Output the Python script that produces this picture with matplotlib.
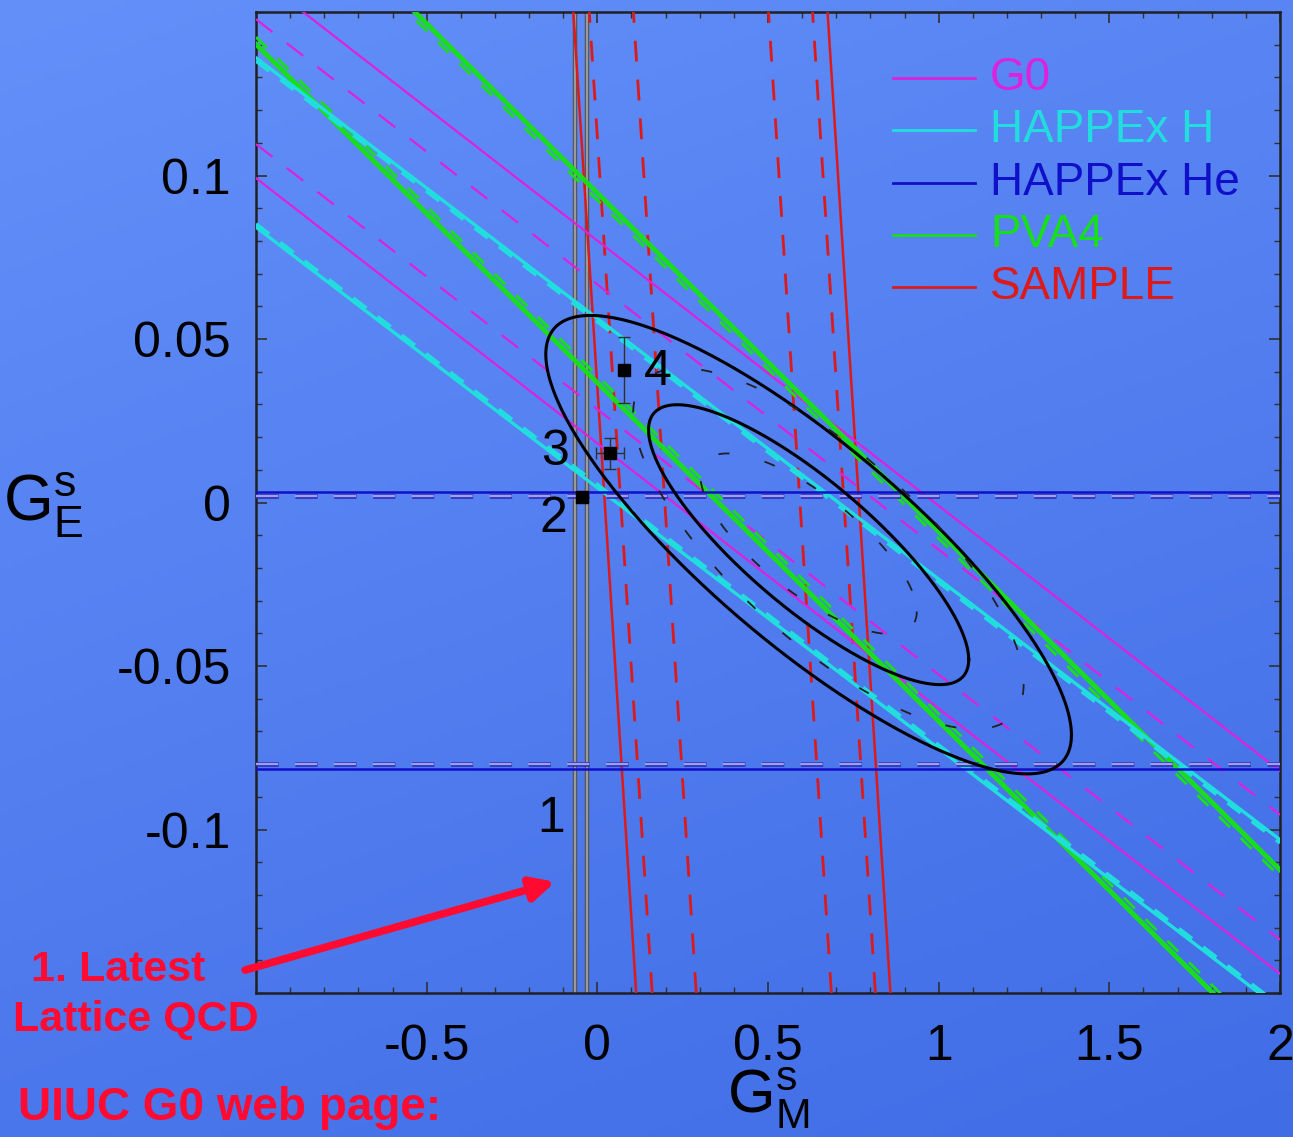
import numpy as np
import matplotlib
matplotlib.use("Agg")
import matplotlib.pyplot as plt

plt.rcParams['font.family'] = ['Liberation Sans', 'DejaVu Sans']
plt.rcParams['mathtext.fontset'] = 'custom'
plt.rcParams['mathtext.rm'] = 'Liberation Sans'
plt.rcParams['mathtext.it'] = 'Liberation Sans'
plt.rcParams['lines.scale_dashes'] = False

# ---------------- data ----------------
# bands of the form GE = b + m*GM
g0_slope = -0.0811
g0_solid = [0.0801, 0.0181]
g0_dashed = [0.0667, 0.0285]

hh_slope = -0.0797
hh_solid = [0.0563, 0.0045]
hh_dashed = [0.0553, 0.0055]

pva4_slope = -0.1035
pva4_solid = [0.0951, 0.0362]
pva4_solid2 = [0.0941, 0.0372]
pva4_dashed = [0.0925, 0.0388]

# HAPPEx He: GE = const
hhe_solid = [0.0031, -0.0816]
hhe_dashed = [0.0021, -0.0801]

# SAMPLE: GM = x0 + k*GE
sample_k = -0.614
sample_solid = [0.0217, 0.7666]
sample_dashed = [0.0686, 0.1977, 0.5936, 0.7226]

# Lattice QCD (1): GM band
lattice_gm = [-0.065, -0.029]

# global fit ellipses: center, half-width in GM, half-height in GE, correlation
ell_solid_cx = [0.619, 0.619]
ell_solid_cy = [-0.0129, -0.0129]
ell_solid_a = [0.770, 0.469]
ell_solid_b = [0.0701, 0.0428]
ell_solid_rho = [0.83, 0.82]

ell_dash_cx = [0.677, 0.619]
ell_dash_cy = [-0.0141, -0.0126]
ell_dash_a = [0.572, 0.317]
ell_dash_b = [0.0552, 0.0276]
ell_dash_rho = [0.75, 0.75]

# theory points 2,3,4
pt_x = [-0.044, 0.038, 0.079]
pt_y = [0.0018, 0.0150, 0.0405]
pt_xerr = [0.0, 0.041, 0.012]
pt_yerr = [0.0, 0.0047, 0.0101]

num_labels = ['1', '2', '3', '4']
num_x = [-0.135, -0.129, -0.123, 0.176]
num_y = [-0.0969, -0.0049, 0.0153, 0.0399]

legend_labels = ['G0', 'HAPPEx H', 'HAPPEx He', 'PVA4', 'SAMPLE']
legend_colors = ['#dd22dd', '#22dddd', '#1010c8', '#18e018', '#dd1a1a']

xticks = [-0.5, 0, 0.5, 1, 1.5, 2]
xticklabels = ['-0.5', '0', '0.5', '1', '1.5', '2']
yticks = [-0.1, -0.05, 0, 0.05, 0.1]
yticklabels = ['-0.1', '-0.05', '0', '0.05', '0.1']

# ---------------- figure ----------------
W, H = 1293, 1137
fig = plt.figure(figsize=(W / 100, H / 100), dpi=100)

# background gradient
bg = fig.add_axes([0, 0, 1, 1], zorder=-10)
yy, xx = np.mgrid[0:1:200j, 0:1:200j]
t = np.clip(0.7 * yy + 0.3 * xx, 0, 1)
c1 = np.array([100, 144, 250]) / 255.0
c2 = np.array([64, 108, 230]) / 255.0
img = c1[None, None, :] * (1 - t[..., None]) + c2[None, None, :] * t[..., None]
bg.imshow(img, extent=[0, 1, 0, 1], aspect='auto', origin='upper')
bg.axis('off')

ax = fig.add_axes([256 / W, 1 - 993 / H, (1280 - 256) / W, (993 - 12) / H])
ax.set_facecolor('none')
ax.set_xlim(-1, 2)
ax.set_ylim(-0.15, 0.15)

xs = np.array([-1.0, 2.0])
ys = np.array([-0.15, 0.15])
DASH = (0, (15, 13))

c_g0, c_hh, c_hhe, c_pva, c_smp = legend_colors

# Lattice QCD gray band
for g in lattice_gm:
    ax.axvline(g, color='#505050', lw=3.2, zorder=2)
    ax.axvline(g, color='#9a9a9a', lw=1.6, zorder=2)

# SAMPLE
for x0 in sample_solid:
    ax.plot(x0 + sample_k * ys, ys, color=c_smp, lw=1.8, zorder=3)
for x0 in sample_dashed:
    ax.plot(x0 + sample_k * ys, ys, color=c_smp, lw=2.0, ls=DASH, zorder=3)

# G0
for b in g0_solid:
    ax.plot(xs, b + g0_slope * xs, color=c_g0, lw=1.6, zorder=3)
for b in g0_dashed:
    ax.plot(xs, b + g0_slope * xs, color=c_g0, lw=1.6, ls=DASH, zorder=3)

# PVA4
for b in pva4_solid:
    ax.plot(xs, b + pva4_slope * xs, color=c_pva, lw=2.0, zorder=3)
for b in pva4_solid2:
    ax.plot(xs, b + pva4_slope * xs, color=c_pva, lw=1.6, zorder=3)
for b in pva4_dashed:
    ax.plot(xs, b + pva4_slope * xs, color=c_pva, lw=2.0, ls=(0, (11, 11)), zorder=3)

# HAPPEx H
for b in hh_solid:
    ax.plot(xs, b + hh_slope * xs, color=c_hh, lw=2.4, zorder=4)
for b in hh_dashed:
    ax.plot(xs, b + hh_slope * xs, color=c_hh, lw=2.6, ls=(0, (12, 10)), zorder=4)

# HAPPEx He
for b in hhe_dashed:
    ax.axhline(b, color='#3030c0', lw=3.4, ls=(0, (16, 12)), zorder=4)
    ax.axhline(b, color='#a0a0e6', lw=1.6, ls=(0, (16, 12)), zorder=4)
for b in hhe_solid:
    ax.axhline(b, color=c_hhe, lw=1.8, zorder=4)

# ellipses
tt = np.linspace(0, 2 * np.pi, 400)
for cx, cy, a, b, r in zip(ell_solid_cx, ell_solid_cy, ell_solid_a, ell_solid_b, ell_solid_rho):
    phi = np.arccos(r)
    ax.plot(cx + a * np.cos(tt), cy - b * np.cos(tt - phi), color='black', lw=2.2, zorder=6)
for cx, cy, a, b, r in zip(ell_dash_cx, ell_dash_cy, ell_dash_a, ell_dash_b, ell_dash_rho):
    phi = np.arccos(r)
    ax.plot(cx + a * np.cos(tt), cy - b * np.cos(tt - phi), color='#202020', lw=1.3,
            ls=(0, (8, 26)), zorder=6)

# theory points
ax.errorbar(pt_x, pt_y, xerr=pt_xerr, yerr=pt_yerr, fmt='s', color='black',
            ms=8, ecolor='#303030', elinewidth=1.0, capsize=4, capthick=1.0, zorder=7)
for s, x, y in zip(num_labels, num_x, num_y):
    ax.text(x, y, s, fontsize=36, ha='center', va='center', color='black', zorder=8)

# legend (manual)
leg_y = [0.933, 0.880, 0.826, 0.773, 0.720]
for lab, col, y in zip(legend_labels, legend_colors, leg_y):
    ax.plot([0.622, 0.702], [y, y], color=col, lw=2.0, transform=ax.transAxes, zorder=9)
    ax.text(0.717, y, lab, color=col, fontsize=33, ha='left', va='center',
            transform=ax.transAxes, zorder=9)

# axes styling
for sp in ax.spines.values():
    sp.set_color('#202020')
    sp.set_linewidth(1.8)
ax.set_xticks(xticks)
ax.set_xticklabels(xticklabels)
ax.set_yticks(yticks)
ax.set_yticklabels(yticklabels)
ax.set_xticks(np.arange(-1, 2.01, 0.1), minor=True)
ax.set_yticks(np.arange(-0.15, 0.151, 0.01), minor=True)
ax.tick_params(which='both', direction='in', top=True, right=True, color='#303030')
ax.tick_params(which='major', length=8, width=1.2, labelsize=36)
ax.tick_params(which='minor', length=4, width=1.0)
ax.tick_params(axis='x', pad=22)
ax.tick_params(axis='y', pad=18)

# axis labels
fig.text(0.002, 1 - 505 / H, r'$\mathrm{G}_{\mathrm{E}}^{\mathrm{s}}$', fontsize=46,
         ha='left', va='center')
fig.text(768 / W, 1 - 1098 / H, r'$\mathrm{G}_{\mathrm{M}}^{\mathrm{s}}$', fontsize=44,
         ha='center', va='center')

# annotation
red = '#ff0a30'
ax.annotate('', xy=(-0.123, -0.116), xytext=(-1.032, -0.143), xycoords='data',
            textcoords='data', annotation_clip=False,
            arrowprops=dict(arrowstyle='-|>,head_length=1.4,head_width=0.7',
                            color=red, lw=5.5, shrinkA=0, shrinkB=0))
fig.text(118 / W, 1 - 970 / H, '1. Latest', color=red, fontsize=31, fontweight='bold',
         ha='center', va='center')
fig.text(136 / W, 1 - 1020 / H, 'Lattice QCD', color=red, fontsize=31, fontweight='bold',
         ha='center', va='center')
fig.text(18 / W, 1 - 1108 / H, 'UIUC G0 web page:', color=red, fontsize=33,
         fontweight='bold', ha='left', va='center')

fig.savefig('out.png', dpi=100)
